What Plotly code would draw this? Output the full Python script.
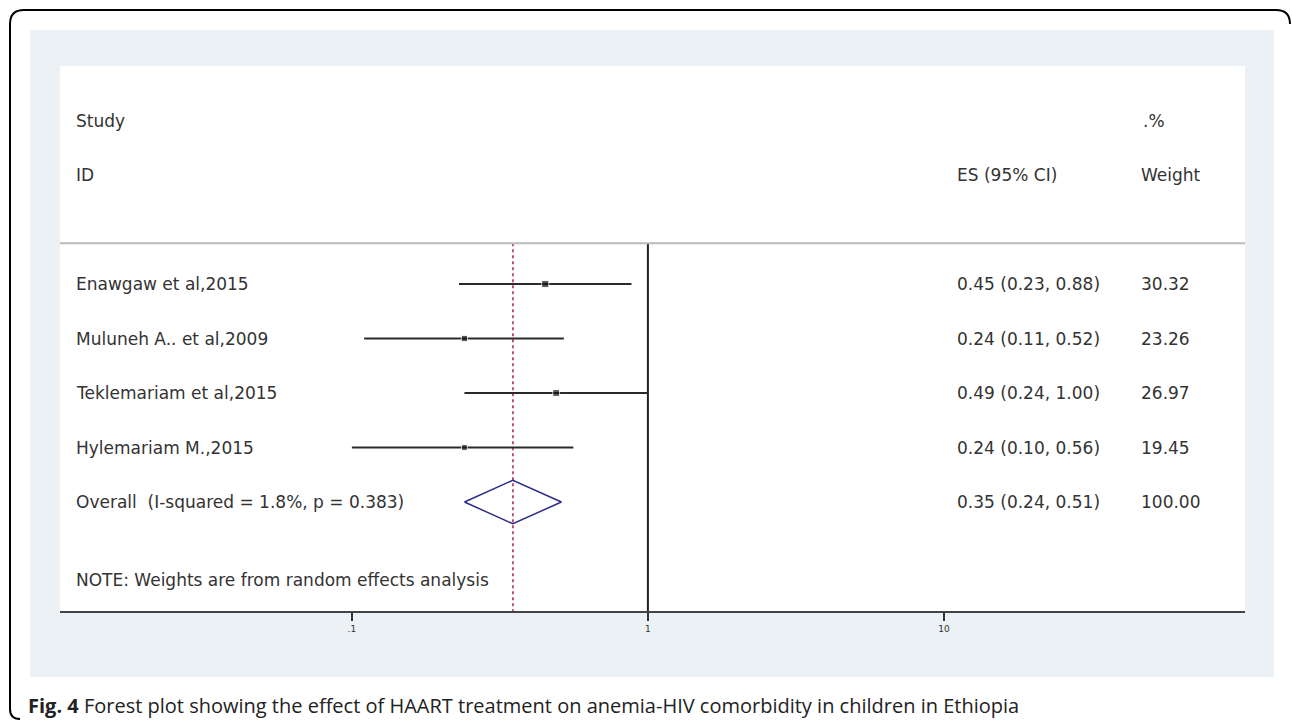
import plotly.graph_objects as go

# ---- data ----
studies = ["Enawgaw et al,2015", "Muluneh A.. et al,2009", "Teklemariam et al,2015", "Hylemariam M.,2015"]
es = [0.45, 0.24, 0.49, 0.24]
ci_low = [0.23, 0.11, 0.24, 0.10]
ci_high = [0.88, 0.52, 1.00, 0.56]
weights = [30.32, 23.26, 26.97, 19.45]
overall_label = "Overall  (I-squared = 1.8%, p = 0.383)"
overall_es = 0.35
overall_low = 0.24
overall_high = 0.51
overall_weight = 100.00
note = "NOTE: Weights are from random effects analysis"
tick_vals = [0.1, 1, 10]
tick_text = [".1", "1", "10"]
caption_bold = "Fig. 4"
caption_rest = " Forest plot showing the effect of HAART treatment on anemia-HIV comorbidity in children in Ethiopia"

W, H = 1292, 720
L, R, T, B = 60, 1245, 66, 611


def px(x):
    return (x - L) / (R - L)


def py(y):
    return (B - y) / (B - T)


FONT = "DejaVu Sans"
TXT = "#333333"
FS = 17

rows = list(range(1, len(studies) + 1))
overall_row = len(studies) + 1

fig = go.Figure()

# reference lines
fig.add_trace(go.Scatter(x=[1, 1], y=[0.25, 7], mode="lines",
                         line=dict(color="#222222", width=2), hoverinfo="skip"))
fig.add_trace(go.Scatter(x=[overall_es, overall_es], y=[0.25, 7], mode="lines",
                         line=dict(color="#B0305A", width=1.6, dash="3px,3px"), hoverinfo="skip"))

# CI lines
cx, cy = [], []
for lo, hi, r in zip(ci_low, ci_high, rows):
    cx += [lo, hi, None]
    cy += [r, r, None]
fig.add_trace(go.Scatter(x=cx, y=cy, mode="lines",
                         line=dict(color="#2A2A2A", width=2.2), hoverinfo="skip"))

# point estimates
fig.add_trace(go.Scatter(x=es, y=rows, mode="markers",
                         marker=dict(symbol="square", color="#111111",
                                     size=[w ** 0.5 * 1.3 for w in weights]),
                         hoverinfo="skip"))

# overall diamond
fig.add_trace(go.Scatter(
    x=[overall_low, overall_es, overall_high, overall_es, overall_low],
    y=[overall_row, overall_row - 0.4, overall_row, overall_row + 0.4, overall_row],
    mode="lines", line=dict(color="#2B2B8A", width=1.5), hoverinfo="skip"))

ann = []


def txt(x, y, s, **kw):
    ann.append(dict(x=x, y=y, xref="paper", yref="y", text=s, showarrow=False,
                    xanchor="left", yanchor="middle",
                    font=dict(family=FONT, size=FS, color=TXT), **kw))


# headers
txt(px(74), -2, "Study")
txt(px(74), -1, "ID")
txt(px(1141), -2, ".%")
txt(px(955), -1, "ES (95% CI)")
txt(px(1139), -1, "Weight")

for s, e, lo, hi, w, r in zip(studies, es, ci_low, ci_high, weights, rows):
    txt(px(74), r, s)
    txt(px(955), r, f"{e:.2f} ({lo:.2f}, {hi:.2f})")
    txt(px(1139), r, f"{w:.2f}")

txt(px(74), overall_row, overall_label)
txt(px(955), overall_row, f"{overall_es:.2f} ({overall_low:.2f}, {overall_high:.2f})")
txt(px(1139), overall_row, f"{overall_weight:.2f}")
txt(px(74), 6.43, note)

# caption
ann.append(dict(x=px(26), y=py(705), xref="paper", yref="paper",
                text=f"<b>{caption_bold}</b>{caption_rest}", showarrow=False,
                xanchor="left", yanchor="middle",
                font=dict(family="Open Sans", size=20, color="#222222")))

shapes = [
    dict(type="rect", xref="paper", yref="paper", x0=px(30), x1=px(1274),
         y0=py(677), y1=py(30), fillcolor="#EBF1F4", line=dict(width=0), layer="below"),
    dict(type="rect", xref="paper", yref="paper", x0=px(60), x1=px(1245),
         y0=py(611), y1=py(66), fillcolor="white", line=dict(width=0), layer="below"),
    dict(type="line", xref="paper", yref="y", x0=0, x1=1, y0=0.25, y1=0.25,
         line=dict(color="#BBBBBB", width=2)),
]

pts = [(20, 719), (10, 719), (10, 709), (10, 24), (10, 10), (24, 10),
       (1276, 10), (1290, 10), (1290, 24)]
P = [f"{px(a):.5f},{py(b):.5f}" for a, b in pts]
path = f"M {P[0]} Q {P[1]} {P[2]} L {P[3]} Q {P[4]} {P[5]} L {P[6]} Q {P[7]} {P[8]}"
shapes.append(dict(type="path", xref="paper", yref="paper", path=path,
                   line=dict(color="black", width=2)))

fig.update_layout(
    width=W, height=H,
    margin=dict(l=L, r=W - R, t=T, b=H - B),
    paper_bgcolor="white", plot_bgcolor="rgba(0,0,0,0)",
    showlegend=False,
    annotations=ann, shapes=shapes,
    xaxis=dict(type="log", range=[-1.986, 2.017], showgrid=False, zeroline=False,
               tickvals=tick_vals, ticktext=tick_text, ticks="outside", ticklen=8,
               tickwidth=1.5, tickcolor="#333333", showline=True, linecolor="#444444",
               linewidth=2, tickfont=dict(family=FONT, size=9, color="#333333"),
               fixedrange=True),
    yaxis=dict(range=[7, -3], visible=False, showgrid=False, zeroline=False, fixedrange=True),
)

fig.write_html(
    "out.html",
    config={"displayModeBar": False},
    post_script="document.documentElement.style.margin='0';document.body.style.margin='0';"
                "document.body.style.padding='0';document.body.style.overflow='hidden';",
)
